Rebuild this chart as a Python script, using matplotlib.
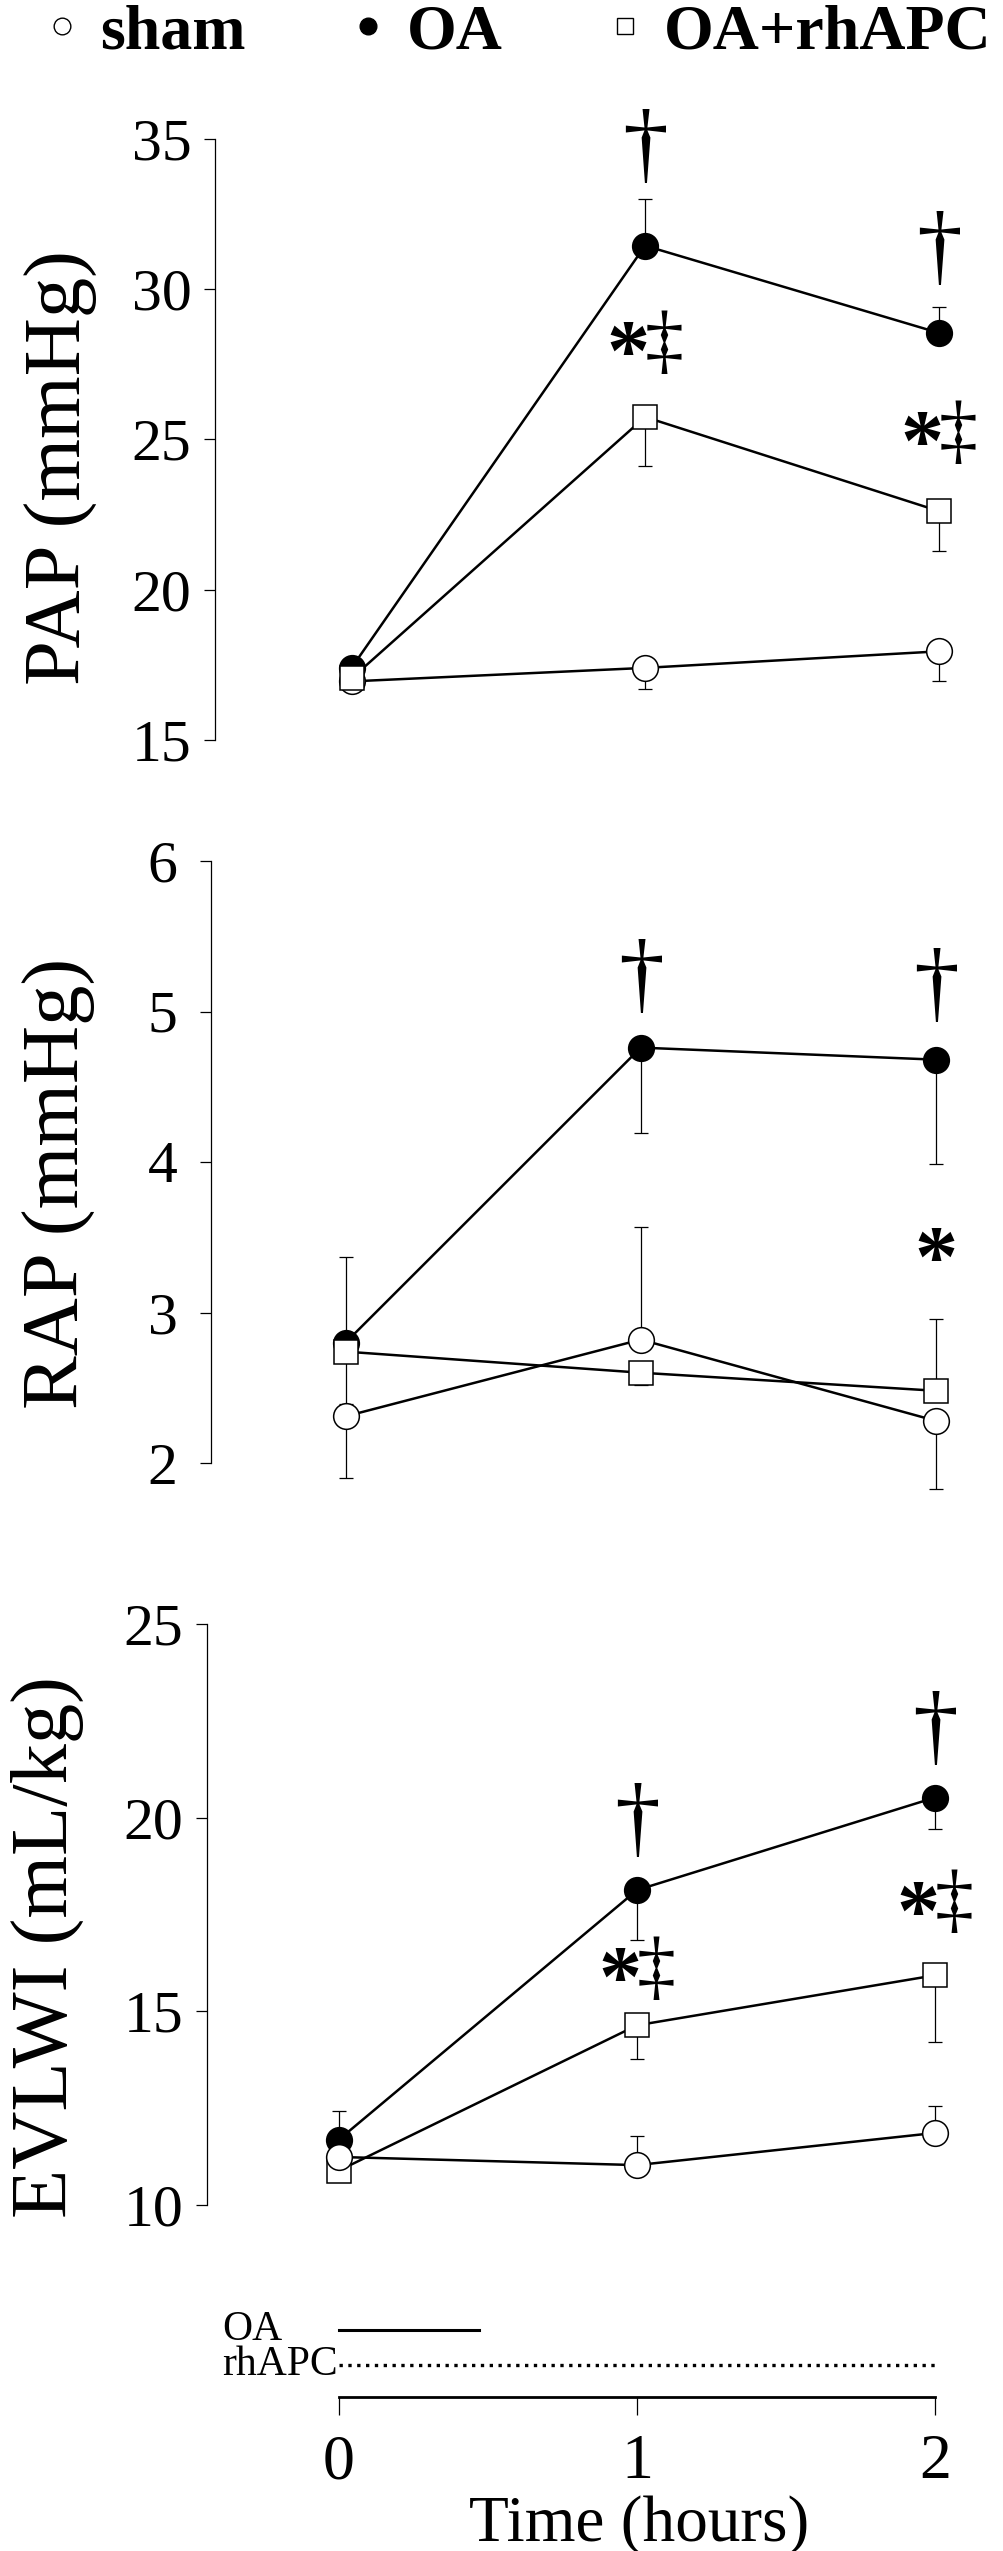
import numpy as np
import matplotlib
matplotlib.use('Agg')
import matplotlib.pyplot as plt
from matplotlib.lines import Line2D

plt.rcParams['font.family'] = ['Liberation Serif', 'DejaVu Serif']

times = [0, 1, 2]
groups = ['sham', 'OA', 'OA+rhAPC']

# PAP (mmHg): means, SE, direction of the one-sided bar (+1 up, -1 down)
pap_mean = {'sham': [16.95, 17.4, 17.95],
            'OA': [17.4, 31.45, 28.55],
            'OA+rhAPC': [17.05, 25.75, 22.62]}
pap_se = {'sham': [0.2, 0.7, 1.0],
          'OA': [0.0, 1.55, 0.85],
          'OA+rhAPC': [0.0, 1.63, 1.33]}
pap_dir = {'sham': [-1, -1, -1], 'OA': [1, 1, 1], 'OA+rhAPC': [-1, -1, -1]}

# RAP (mmHg)
rap_mean = {'sham': [2.31, 2.82, 2.28],
            'OA': [2.80, 4.76, 4.68],
            'OA+rhAPC': [2.74, 2.60, 2.48]}
rap_se = {'sham': [0.41, 0.75, 0.45],
          'OA': [0.57, 0.57, 0.69],
          'OA+rhAPC': [0.35, 0.08, 0.48]}
rap_dir = {'sham': [-1, 1, -1], 'OA': [1, -1, -1], 'OA+rhAPC': [-1, -1, 1]}

# EVLWI (mL/kg)
ev_mean = {'sham': [11.24, 11.03, 11.86],
           'OA': [11.69, 18.13, 20.52],
           'OA+rhAPC': [10.89, 14.64, 15.93]}
ev_se = {'sham': [0.0, 0.76, 0.70],
         'OA': [0.73, 1.28, 0.82],
         'OA+rhAPC': [0.0, 0.87, 1.73]}
ev_dir = {'sham': [1, 1, 1], 'OA': [1, -1, -1], 'OA+rhAPC': [-1, -1, -1]}

# significance marks: (time, y, symbol)
pap_sig_x = [1, 2, 1, 2]
pap_sig_y = [34.64, 31.25, 28.1, 25.1]
pap_sig_txt = ['†', '†', '*‡', '*‡']
rap_sig_x = [1, 2, 2]
rap_sig_y = [5.21, 5.15, 3.40]
rap_sig_txt = ['†', '†', '*']
ev_sig_x = [1, 2, 1, 2]
ev_sig_y = [19.84, 22.23, 16.02, 17.73]
ev_sig_txt = ['†', '†', '*‡', '*‡']

# infusion timeline
infusions = ['OA', 'rhAPC']
inf_start = [0, 0]
inf_end = [0.47, 2.0]
inf_style = ['-', ':']

W, H = 1004, 2551
fig = plt.figure(figsize=(W / 100, H / 100), dpi=100)


def px_axes(left, top, right, bottom):
    return fig.add_axes([left / W, 1 - bottom / H, (right - left) / W, (bottom - top) / H])


styles = {'sham': dict(marker='o', mfc='white', ms=18.5),
          'OA': dict(marker='o', mfc='black', ms=18.5),
          'OA+rhAPC': dict(marker='s', mfc='white', ms=17)}


def sig_text(ax, x, y, t):
    if t == '†':
        ax.annotate('†', (x, y), ha='center', va='center', fontsize=66,
                    annotation_clip=False)
    elif t == '*':
        ax.annotate('*', (x, y), xytext=(0, -9), textcoords='offset points',
                    ha='center', va='center', fontsize=62, fontweight='bold',
                    annotation_clip=False)
    else:
        ax.annotate('*', (x, y), xytext=(-12, -9), textcoords='offset points',
                    ha='center', va='center', fontsize=62, fontweight='bold',
                    annotation_clip=False)
        ax.annotate('‡', (x, y), xytext=(14, 0), textcoords='offset points',
                    ha='center', va='center', fontsize=56, annotation_clip=False)


def draw_panel(ax, means, ses, dirs, zorders, ylim, yticks, ylabel, xlim,
               sig_x, sig_y, sig_txt, label_xy, pad):
    for g in groups:
        ax.plot(times, means[g], color='black', lw=1.8, zorder=2, clip_on=False)
    for g in groups:
        lo = [s if d < 0 else 0 for s, d in zip(ses[g], dirs[g])]
        hi = [s if d > 0 else 0 for s, d in zip(ses[g], dirs[g])]
        eb = ax.errorbar(times, means[g], yerr=[lo, hi], fmt='none', ecolor='black',
                         elinewidth=0.9, capsize=5, capthick=0.9, zorder=zorders[g] - 0.5)
        for a in list(eb.lines[1]) + list(eb.lines[2]):
            a.set_clip_on(False)
        ax.plot(times, means[g], ls='none', mec='black', mew=1.1,
                zorder=zorders[g], clip_on=False, **styles[g])
    for x, y, t in zip(sig_x, sig_y, sig_txt):
        sig_text(ax, x, y, t)
    ax.set_xlim(xlim)
    ax.set_ylim(ylim)
    ax.set_yticks(yticks)
    ax.set_xticks([])
    for s in ['top', 'right', 'bottom']:
        ax.spines[s].set_visible(False)
    ax.spines['left'].set_linewidth(0.9)
    ax.tick_params(axis='y', length=8, width=0.9, pad=pad, labelsize=43)
    fig.text(label_xy[0] / W, 1 - label_xy[1] / H, ylabel, rotation=90,
             ha='center', va='center', fontsize=58)


ax1 = px_axes(215, 139, 1000, 740)
draw_panel(ax1, pap_mean, pap_se, pap_dir,
           {'sham': 3, 'OA': 4, 'OA+rhAPC': 5},
           (15, 35), [15, 20, 25, 30, 35], 'PAP (mmHg)', (-0.465, 2.209),
           pap_sig_x, pap_sig_y, pap_sig_txt, (61, 468), 9)

ax2 = px_axes(211, 861, 1000, 1463)
draw_panel(ax2, rap_mean, rap_se, rap_dir,
           {'sham': 5, 'OA': 3, 'OA+rhAPC': 4},
           (2, 6), [2, 3, 4, 5, 6], 'RAP (mmHg)', (-0.456, 2.217),
           rap_sig_x, rap_sig_y, rap_sig_txt, (59, 1183), 16)

ax3 = px_axes(207, 1624, 1000, 2205)
draw_panel(ax3, ev_mean, ev_se, ev_dir,
           {'sham': 5, 'OA': 4, 'OA+rhAPC': 3},
           (10, 25), [10, 15, 20, 25], 'EVLWI (mL/kg)', (-0.443, 2.218),
           ev_sig_x, ev_sig_y, ev_sig_txt, (47, 1947), 9)

# timeline + time axis
ax4 = px_axes(207, 2300, 1000, 2397)
for i, (name, s, e, ls) in enumerate(zip(infusions, inf_start, inf_end, inf_style)):
    yy = 0.69 - i * 0.36
    ax4.plot([s, e], [yy, yy], color='black', ls=ls, lw=2.2 if ls == '-' else 2.4)
    ax4.text(-0.393, yy, name, ha='left', va='center', fontsize=30)
ax4.set_xlim(-0.443, 2.218)
ax4.set_ylim(0, 1)
ax4.set_xticks(times)
ax4.set_yticks([])
for s in ['top', 'right', 'left']:
    ax4.spines[s].set_visible(False)
ax4.spines['bottom'].set_bounds(0, 2)
ax4.spines['bottom'].set_linewidth(2.0)
ax4.tick_params(axis='x', length=13, width=0.9, pad=14, labelsize=46)
ax4.set_xlabel('Time (hours)', fontsize=47, labelpad=2, x=0.545)

# legend across the top
handles = [Line2D([], [], ls='none', marker=styles[g]['marker'], mfc=styles[g]['mfc'],
                  mec='black', mew=1.0, ms=12) for g in groups]
fig.legend(handles, groups, loc='center', bbox_to_anchor=(0.515, 1 - 33 / H), ncol=3,
           frameon=False, handlelength=0.6, handletextpad=0.3, columnspacing=1.62,
           prop={'family': 'Liberation Serif', 'weight': 'bold', 'size': 46})

fig.savefig('out.png', dpi=100)
